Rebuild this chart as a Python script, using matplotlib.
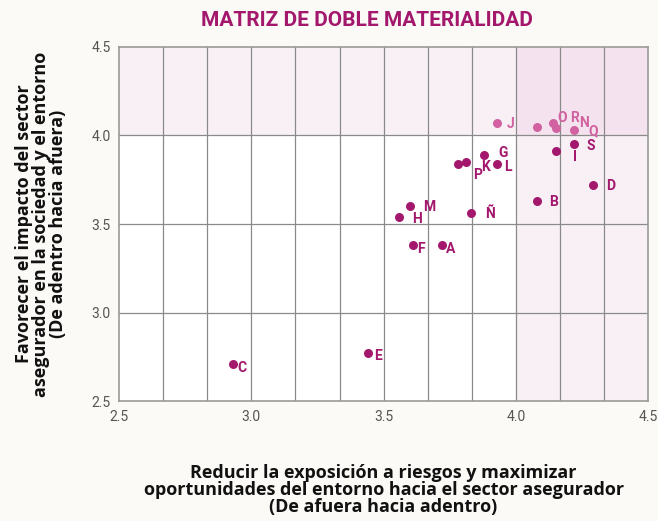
import matplotlib
matplotlib.use("Agg")
import matplotlib.pyplot as plt
from matplotlib.patches import Rectangle
import numpy as np

# ─── Data ────────────────────────────────────────────────────────────────────
labels = ["C", "E", "F", "A", "H", "M", "Ñ", "P", "K", "G", "L",
          "I", "S", "D", "B", "J", "O", "R", "N", "Q"]
x_vals = [2.93, 3.44, 3.61, 3.72, 3.56, 3.60, 3.83, 3.78, 3.81, 3.88, 3.93,
          4.15, 4.22, 4.29, 4.08, 3.93, 4.08, 4.14, 4.15, 4.22]
y_vals = [2.71, 2.77, 3.38, 3.38, 3.54, 3.60, 3.56, 3.84, 3.85, 3.89, 3.84,
          3.91, 3.95, 3.72, 3.63, 4.07, 4.05, 4.07, 4.04, 4.03]
# label offsets from each dot, in pixels
label_dx = [9, 10, 8, 9, 18, 19, 19, 20, 20, 19, 11, 19, 17, 18, 17, 13, 25, 22, 28, 19]
label_dy = [-4, -3, -4, -4, -2, -1, -1, -11, -5, 2, -3, -6, -2, -1, -1, -1, 9, 5, 5, -1]

x_ticks = [2.5, 3.0, 3.5, 4.0, 4.5]
y_ticks = [2.5, 3.0, 3.5, 4.0, 4.5]

DARK = "#a3176c"
LIGHT = "#d161a0"
BG = "#fbfaf6"

plt.rcParams["font.family"] = ["Roboto", "DejaVu Sans"]

fig = plt.figure(figsize=(6.58, 5.21), dpi=100, facecolor=BG)
ax = fig.add_axes([0.181, 0.230, 0.804, 0.680])
ax.set_xlim(2.5, 4.5)
ax.set_ylim(2.5, 4.5)
ax.set_facecolor("white")

# shaded zones: top band, right band, and their overlap
ax.add_patch(Rectangle((2.5, 4.0), 1.5, 0.5, color="#f8f0f5", zorder=0, lw=0))
ax.add_patch(Rectangle((4.0, 2.5), 0.5, 1.5, color="#f8f0f5", zorder=0, lw=0))
ax.add_patch(Rectangle((4.0, 4.0), 0.5, 0.5, color="#f4e3ee", zorder=0, lw=0))

# grid
for gx in np.arange(2.5, 4.5, 1 / 6)[1:]:
    ax.axvline(gx, color="#8a8a8a", lw=0.9, zorder=1)
for gy in [3.0, 3.5, 4.0]:
    ax.axhline(gy, color="#8a8a8a", lw=0.9, zorder=1)

for s in ax.spines.values():
    s.set_color("#9a9a9a")
    s.set_linewidth(1.2)

for lab, x, y, dx, dy in zip(labels, x_vals, y_vals, label_dx, label_dy):
    col = LIGHT if y > 4.0 else DARK
    ax.scatter(x, y, s=42, color=col, zorder=3, linewidths=0)
    ax.annotate(lab, (x, y), xytext=(dx, dy), textcoords="offset pixels",
                ha="center", va="center", fontsize=10, fontweight="bold",
                color=col, zorder=4)

ax.set_xticks(x_ticks)
ax.set_yticks(y_ticks)
ax.set_xticklabels([f"{v:.1f}" for v in x_ticks])
ax.set_yticklabels([f"{v:.1f}" for v in y_ticks])
ax.tick_params(length=0, labelsize=10, labelcolor="#555555", pad=6)

fig.text(0.557, 0.960, "MATRIZ DE DOBLE MATERIALIDAD", ha="center", va="center",
         fontsize=15, fontweight="bold", color=DARK)

ax.set_xlabel("Reducir la exposición a riesgos y maximizar\n"
              "oportunidades del entorno hacia el sector asegurador\n"
              "(De afuera hacia adentro)",
              fontsize=13, fontweight="bold", color="#111111",
              family=["Open Sans", "DejaVu Sans"],
              linespacing=0.92, labelpad=29)
ax.set_ylabel("Favorecer el impacto del sector\n"
              "asegurador en la sociedad y el entorno\n"
              "(De adentro hacia afuera)",
              fontsize=13, fontweight="bold", color="#111111",
              family=["Open Sans", "DejaVu Sans"],
              linespacing=0.92, labelpad=18)

fig.savefig("out.png", dpi=100, facecolor=BG)
